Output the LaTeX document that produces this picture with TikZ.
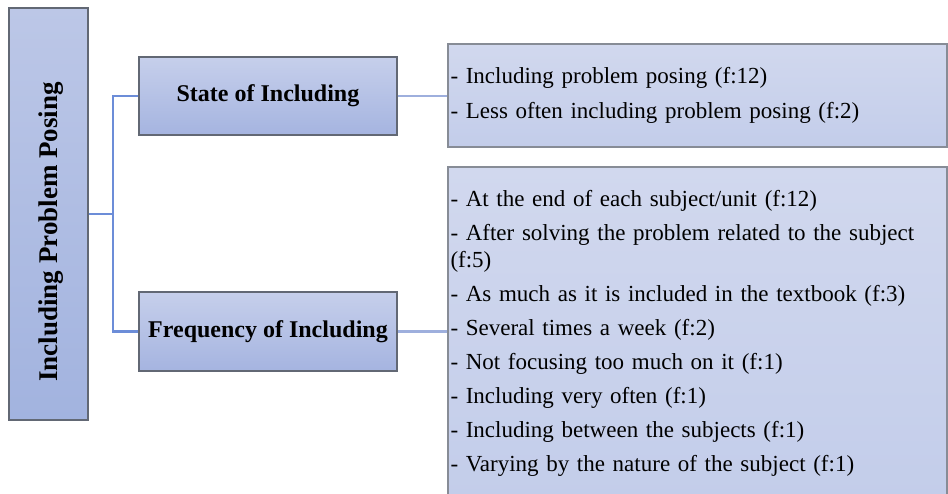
\documentclass[tikz,border=0pt]{standalone}
\usepackage{fontspec}
\setmainfont{Liberation Serif}
\definecolor{rootTop}{RGB}{188,199,231}
\definecolor{rootBot}{RGB}{162,179,223}
\definecolor{midTop}{RGB}{198,207,235}
\definecolor{midBot}{RGB}{165,180,224}
\definecolor{listTop}{RGB}{209,216,238}
\definecolor{listBot}{RGB}{195,205,234}
\definecolor{boxEdge}{RGB}{98,104,116}
\definecolor{listEdge}{RGB}{135,140,150}
\definecolor{treeLine}{RGB}{108,141,216}
\definecolor{leafLine}{RGB}{158,175,221}
\begin{document}
\begin{tikzpicture}[x=1pt,y=-1pt,
  rootbox/.style={draw=boxEdge, line width=1.2pt, top color=rootTop, bottom color=rootBot,
    minimum width=79pt, minimum height=412pt, inner sep=0pt},
  roottext/.style={rotate=90, font=\fontsize{27}{30}\selectfont\bfseries, inner sep=0pt},
  midbox/.style={draw=boxEdge, line width=1.2pt, top color=midTop, bottom color=midBot,
    minimum width=258pt, inner sep=0pt, font=\fontsize{24}{28}\selectfont\bfseries},
  listbox/.style={draw=listEdge, line width=1.2pt, top color=listTop, bottom color=listBot,
    minimum width=499pt, inner xsep=2.5pt, inner ysep=0pt, text width=494pt, align=left,
    font=\fontsize{23}{27.5}\selectfont},
  treeconn/.style={draw=treeLine, line width=2.9pt},
  leafconn/.style={draw=leafLine, line width=2.3pt}
]
\useasboundingbox (0,0) rectangle (948,493);

% main category
\node[rootbox] (root) at (48.5,214) {};
\node[roottext] (rootlabel) at (51,232) {Including Problem Posing};

% sub-categories
\node[midbox, minimum height=78pt] (state) at (268,96) {State of Including};
\node[midbox, minimum height=79pt] (freq) at (268,331.5) {Frequency of Including};

% codes with frequencies
\node[listbox, minimum height=103pt] (stateList) at (697.5,95.5)
  {- Including problem posing (f:12)\\[7.5pt]
   - Less often including problem posing (f:2)\\[30pt]};
\node[listbox, minimum height=333pt] (freqList) at (697.5,333.5)
  {- At the end of each subject/unit (f:12)\\[6.5pt]
   - After solving the problem related to the subject\\
   (f:5)\\[6.5pt]
   - As much as it is included in the textbook (f:3)\\[6.5pt]
   - Several times a week (f:2)\\[6.5pt]
   - Not focusing too much on it (f:1)\\[6.5pt]
   - Including very often (f:1)\\[6.5pt]
   - Including between the subjects (f:1)\\[6.5pt]
   - Varying by the nature of the subject (f:1)};

% tree connectors
\coordinate (trunk) at (113,214);
\draw[treeconn] (root.east |- trunk) -- (trunk);
\draw[treeconn, line join=miter] (state.west) -| (trunk) |- (freq.west);

% leaf connectors
\draw[leafconn] (state.east) -- (state.east -| stateList.west);
\draw[leafconn] (freq.east) -- (freq.east -| freqList.west);
\end{tikzpicture}
\end{document}
